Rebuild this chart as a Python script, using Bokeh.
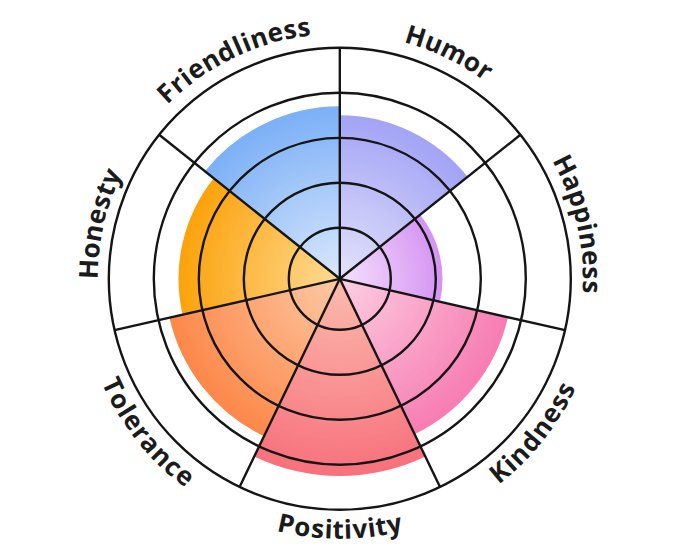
import math
from bokeh.plotting import figure
from bokeh.models import ColumnDataSource
from bokeh.embed import file_html
from bokeh.resources import INLINE
from bokeh.core.properties import value

# ---------------- data ----------------
categories = ["Humor", "Happiness", "Kindness", "Positivity", "Tolerance", "Honesty", "Friendliness"]
scores = [7.0, 4.3, 7.4, 8.5, 7.5, 6.9, 7.4]
ring_ticks = [2, 4, 6, 8, 10]
inner_colors = ["#e4e3fc", "#f6e2fc", "#fcd0e2", "#fcbcae", "#fdcaa6", "#fedb96", "#dbe9fc"]
outer_colors = ["#a3a4f5", "#d594f3", "#f77db3", "#f7727d", "#fd884a", "#fca30c", "#7cb0f7"]

# ---------------- style ----------------
W, H = 680, 556
CX, CY = 339.3, 278.3          # chart centre inside the frame (px)
R0, K = 6.0, 22.5              # radius (px) = R0 + K * score
LINE = "#151515"
FS = 26                         # label font size (px)
CAP = 0.714 * FS
TOP_BASE = 255.0                # anchor radius of upper labels
BOT_BASE = 250.0                # anchor radius of lower labels
LS_TOP = 1.8
LS_BOT = 0.2
LABEL_DR = {"Honesty": -3.0, "Happiness": -2.0}

# Open Sans Bold advance widths (em)
ADV = {"H": .760, "u": .643, "m": .974, "o": .611, "r": .442, "a": .585, "p": .628,
       "i": .295, "n": .643, "e": .589, "s": .492, "K": .654, "d": .628, "P": .617,
       "t": .408, "v": .560, "y": .561, "T": .571, "l": .295, "c": .496, "F": .555}


def rad(v):
    return R0 + K * v


def lerp(c1, c2, t):
    a = [int(c1[i:i + 2], 16) for i in (1, 3, 5)]
    b = [int(c2[i:i + 2], 16) for i in (1, 3, 5)]
    return "#%02x%02x%02x" % tuple(round(a[j] + (b[j] - a[j]) * t) for j in range(3))


n = len(categories)
step = 2 * math.pi / n

p = figure(width=W, height=H, x_range=(-CX, W - CX), y_range=(-(H - CY), CY),
           output_backend="svg", toolbar_location=None, min_border=0)
p.axis.visible = False
p.grid.visible = False
p.outline_line_color = None
p.background_fill_color = "white"
p.border_fill_color = "white"

# gradient sectors (nested wedges, outer first)
NS = 60
wx, wy, wr, ws, we, wc = [], [], [], [], [], []
for i, (s, ci, co) in enumerate(zip(scores, inner_colors, outer_colors)):
    R = rad(s)
    a_end = math.pi / 2 - i * step
    a_start = a_end - step
    for k in range(NS, 0, -1):
        t = k / NS
        wx.append(0); wy.append(0); wr.append(R * t)
        ws.append(a_start); we.append(a_end)
        wc.append(lerp(ci, co, t))
src = ColumnDataSource(dict(x=wx, y=wy, r=wr, s=ws, e=we, c=wc))
p.wedge(x="x", y="y", radius="r", start_angle="s", end_angle="e",
        fill_color="c", line_color=None, source=src)

# rings
p.circle(x=[0] * len(ring_ticks), y=[0] * len(ring_ticks),
         radius=[rad(v) for v in ring_ticks],
         fill_color=None, line_color=LINE, line_width=2.4)

# spokes
Rout = rad(ring_ticks[-1])
x1 = [Rout * math.sin(i * step) for i in range(n)]
y1 = [Rout * math.cos(i * step) for i in range(n)]
p.segment(x0=[0] * n, y0=[0] * n, x1=x1, y1=y1, line_color=LINE, line_width=2.4)

# curved labels
tx, ty, tt, ta = [], [], [], []
for i, lab in enumerate(categories):
    th_c = (i + 0.5) * step          # clockwise from top
    widths = [ADV.get(ch, 0.6) * FS for ch in lab]
    top = math.cos(th_c) > -0.35     # upper labels read clockwise
    ls = LS_TOP if top else LS_BOT
    total = sum(widths) + ls * (len(lab) - 1)
    dr = LABEL_DR.get(lab, 0.0)
    if top:
        rb = TOP_BASE + dr
        rm = rb + CAP / 2
    else:
        rb = BOT_BASE + dr
        rm = rb - CAP / 2
    cum = 0.0
    for ch, w in zip(lab, widths):
        off = (cum + w / 2 - total / 2) / rm
        if top:
            th = th_c + off
            ang = -th
        else:
            th = th_c - off
            ang = math.pi - th
        tx.append(rb * math.sin(th)); ty.append(rb * math.cos(th))
        tt.append(ch); ta.append(ang)
        cum += w + ls

p.text(x=tx, y=ty, text=tt, angle=ta, text_align="center", text_baseline="alphabetic",
       text_font=value("Open Sans"), text_font_style="bold",
       text_font_size="%dpx" % FS, text_color="#1b1b1b")

open("out.html", "w").write(file_html(p, INLINE))
